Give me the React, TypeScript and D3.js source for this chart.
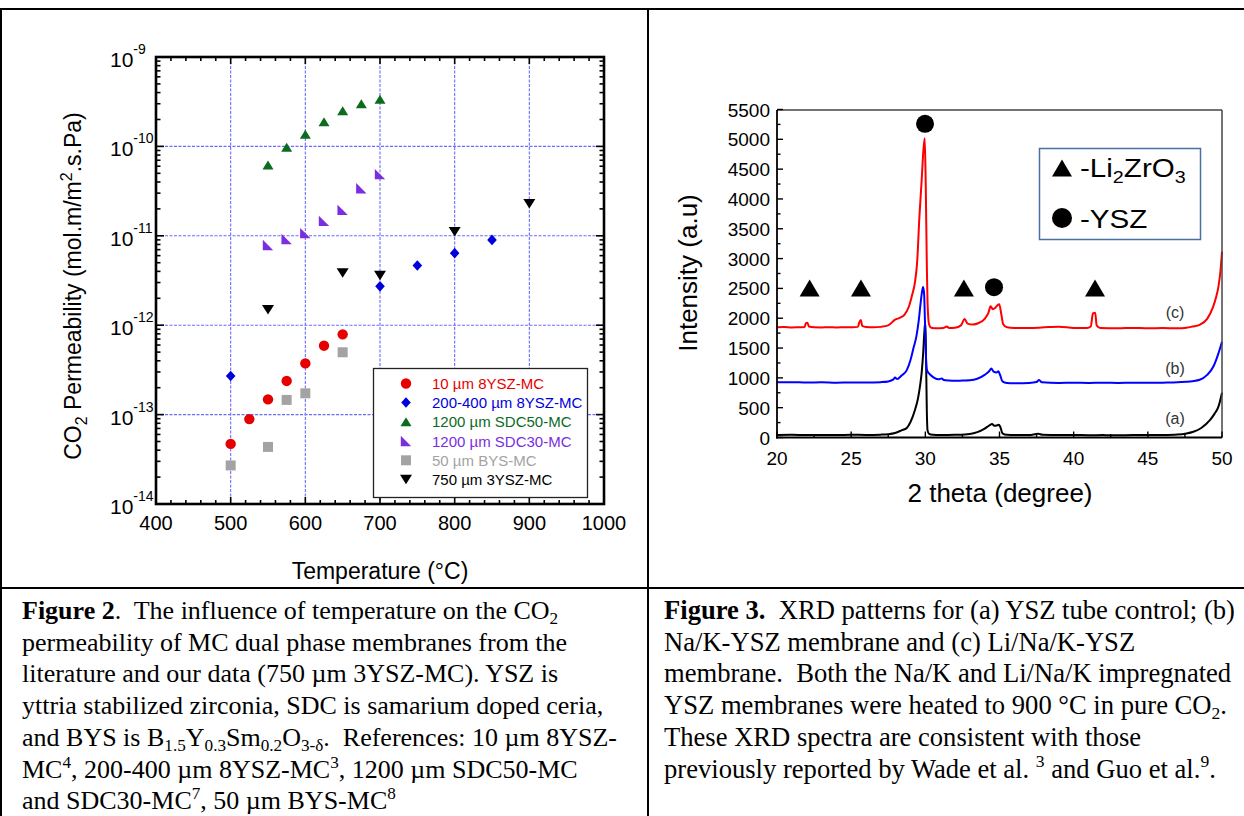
import React from 'react';
import * as d3 from 'd3';

// ---------- Figure 2 data (CO2 permeability vs temperature) ----------
const tempTicks = [400, 500, 600, 700, 800, 900, 1000];
const decadeExps = [-14, -13, -12, -11, -10, -9];

const ysz10T = [500, 525, 550, 575, 600, 625, 650];
const ysz10P = [4.7e-14, 8.9e-14, 1.48e-13, 2.38e-13, 3.74e-13, 5.9e-13, 7.9e-13];
const ysz200T = [500, 700, 750, 800, 850];
const ysz200P = [2.7e-13, 2.72e-12, 4.66e-12, 6.4e-12, 9.0e-12];
const sdc50T = [550, 575, 600, 625, 650, 675, 700];
const sdc50P = [6.2e-11, 9.8e-11, 1.37e-10, 1.89e-10, 2.5e-10, 3.0e-10, 3.37e-10];
const sdc30T = [550, 575, 600, 625, 650, 675, 700];
const sdc30P = [7.9e-12, 9.2e-12, 1.07e-11, 1.47e-11, 1.95e-11, 3.4e-11, 4.9e-11];
const bysT = [500, 550, 575, 600, 650];
const bysP = [2.7e-14, 4.35e-14, 1.46e-13, 1.73e-13, 4.98e-13];
const ysz3T = [550, 650, 700, 800, 900];
const ysz3P = [1.49e-12, 3.83e-12, 3.6e-12, 1.11e-11, 2.28e-11];

const seriesNames = ['10 µm 8YSZ-MC', '200-400 µm 8YSZ-MC', '1200 µm SDC50-MC', '1200 µm SDC30-MC', '50 µm BYS-MC', '750 µm 3YSZ-MC'];
const seriesColors = ['#e60000', '#0000dd', '#0b6b1e', '#7a2ee0', '#a3a3a3', '#000000'];
const seriesShapes = ['circle', 'diamond', 'triangle', 'rtri', 'square', 'tridown'];
const seriesT = [ysz10T, ysz200T, sdc50T, sdc30T, bysT, ysz3T];
const seriesP = [ysz10P, ysz200P, sdc50P, sdc30P, bysP, ysz3P];

// ---------- Figure 3 data (XRD) ----------
const thetaTicks = [20, 25, 30, 35, 40, 45, 50];
const intensityTicks = [0, 500, 1000, 1500, 2000, 2500, 3000, 3500, 4000, 4500, 5000, 5500];

const xrdA: [number, number][] = [
  [20, 42], [21, 45], [22, 40], [23, 44], [24, 42], [25, 45], [26, 44], [27, 48], [27.5, 55], [27.96, 75],
  [28.4, 120], [28.75, 160], [29.0, 260], [29.3, 461], [29.5, 650], [29.65, 880], [29.75, 1080], [29.85, 1400],
  [29.93, 1750], [30.0, 1950], [30.05, 1300], [30.1, 450], [30.15, 120], [30.25, 60], [30.5, 45], [31, 40],
  [32, 45], [33, 60], [33.5, 90], [34, 150], [34.3, 200], [34.5, 226], [34.65, 195], [34.8, 200], [34.95, 212],
  [35.05, 180], [35.2, 70], [35.5, 45], [36, 40], [37, 42], [37.6, 62], [37.9, 45], [39, 40], [40, 42], [41, 38],
  [42, 40], [43, 38], [44, 40], [45, 40], [46, 42], [47, 50], [47.6, 68], [48.07, 97], [48.6, 160], [49.2, 294],
  [49.5, 400], [49.76, 517], [50, 752],
];
const xrdB: [number, number][] = [
  [20, 925], [21, 928], [22, 922], [23, 926], [24, 920], [25, 924], [26, 921], [27, 928], [27.5, 940], [27.85, 975],
  [27.96, 1005], [28.1, 980], [28.4, 1040], [28.75, 1130], [29.0, 1300], [29.2, 1500], [29.4, 1700], [29.55, 1950],
  [29.68, 2250], [29.78, 2450], [29.85, 2525], [29.92, 2400], [29.98, 1900], [30.05, 1300], [30.12, 1120],
  [30.3, 1060], [30.6, 1000], [30.9, 975], [31.1, 990], [31.25, 965], [31.6, 955], [32, 950], [32.5, 955],
  [33, 960], [33.5, 985], [34, 1050], [34.3, 1110], [34.45, 1155], [34.6, 1105], [34.8, 1090], [34.92, 1110],
  [35.05, 1040], [35.2, 940], [35.5, 915], [36, 910], [37, 915], [37.5, 930], [37.67, 965], [37.85, 925],
  [39, 915], [40, 918], [41, 915], [42, 918], [43, 915], [44, 920], [45, 916], [46, 920], [47, 925], [47.6, 935],
  [48, 945], [48.5, 968], [49, 1050], [49.42, 1190], [49.76, 1410], [50, 1607],
];
const xrdC: [number, number][] = [
  [20, 1848], [20.5, 1852], [21, 1846], [21.5, 1850], [21.85, 1852], [21.95, 1915], [22.05, 1926], [22.15, 1860],
  [22.5, 1848], [23, 1846], [23.5, 1850], [24, 1845], [24.5, 1848], [25, 1850], [25.45, 1855], [25.55, 1930],
  [25.65, 1970], [25.75, 1870], [26, 1852], [26.5, 1848], [27, 1855], [27.5, 1880], [27.96, 1975], [28.3, 2010],
  [28.6, 2060], [28.9, 2200], [29.1, 2380], [29.3, 2600], [29.45, 2950], [29.6, 3700], [29.75, 4300],
  [29.87, 4820], [29.96, 5020], [30.03, 4200], [30.1, 2900], [30.15, 2250], [30.25, 1900], [30.4, 1840],
  [30.8, 1830], [31.2, 1835], [31.45, 1860], [31.6, 1835], [32, 1840], [32.4, 1880], [32.65, 1985], [32.85, 1910],
  [33.2, 1895], [33.6, 1920], [34, 1990], [34.25, 2090], [34.4, 2200], [34.55, 2150], [34.7, 2170], [34.85, 2215],
  [34.98, 2235], [35.1, 2100], [35.25, 1900], [35.5, 1850], [36, 1838], [37, 1835], [38, 1848], [39, 1858],
  [40, 1838], [40.9, 1835], [41.15, 1860], [41.3, 2080], [41.45, 2090], [41.55, 1880], [41.8, 1836], [43, 1832],
  [44, 1838], [45, 1832], [46, 1835], [47, 1830], [47.6, 1840], [48, 1860], [48.5, 1890], [49, 1990],
  [49.4, 2190], [49.6, 2350], [49.76, 2530], [49.9, 2800], [50, 3117],
];
const xrdCurves = [xrdA, xrdB, xrdC];
const xrdColors = ['#000000', '#0000ff', '#ff0000'];
const xrdLabels = ['(a)', '(b)', '(c)'];
const xrdLabelLevels = [330, 1170, 2100];

const li2zro3Peaks = [22.2, 25.66, 32.6, 41.44];
const li2zro3Level = 2508;
const yszPeaks: [number, number][] = [[29.98, 5260], [34.63, 2520]];

// ---------- captions ----------
type Seg = [string, string];
const caption2: Seg[][] = [
  [['Figure 2', 'b'], ['.  The influence of temperature on the CO', ''], ['2', 'sub']],
  [['permeability of MC dual phase membranes from the', '']],
  [['literature and our data (750 µm 3YSZ-MC). YSZ is', '']],
  [['yttria stabilized zirconia, SDC is samarium doped ceria,', '']],
  [['and BYS is B', ''], ['1.5', 'sub'], ['Y', ''], ['0.3', 'sub'], ['Sm', ''], ['0.2', 'sub'], ['O', ''], ['3-δ', 'sub'], ['.  References: 10 µm 8YSZ-', '']],
  [['MC', ''], ['4', 'sup'], [', 200-400 µm 8YSZ-MC', ''], ['3', 'sup'], [', 1200 µm SDC50-MC', '']],
  [['and SDC30-MC', ''], ['7', 'sup'], [', 50 µm BYS-MC', ''], ['8', 'sup']],
];
const caption3: Seg[][] = [
  [['Figure 3.', 'b'], ['  XRD patterns for (a) YSZ tube control; (b)', '']],
  [['Na/K-YSZ membrane and (c) Li/Na/K-YSZ', '']],
  [['membrane.  Both the Na/K and Li/Na/K impregnated', '']],
  [['YSZ membranes were heated to 900 °C in pure CO', ''], ['2', 'sub'], ['.', '']],
  [['These XRD spectra are consistent with those', '']],
  [['previously reported by Wade et al. ', ''], ['3', 'sup'], [' and Guo et al.', ''], ['9', 'sup'], ['.', '']],
];

const SANS = "'Liberation Sans', Arial, Helvetica, sans-serif";
const SERIF = "'Liberation Serif', 'Times New Roman', serif";

// scales
const xT = d3.scaleLinear().domain([400, 1000]).range([156, 604]);
const yP = d3.scaleLog().domain([1e-14, 1e-9]).range([504, 57]);
const x2 = d3.scaleLinear().domain([20, 50]).range([777, 1222]);
const y2 = d3.scaleLinear().domain([0, 5500]).range([437.5, 109.5]);

function markerPath(kind: string, cx: number, cy: number): string {
  switch (kind) {
    case 'circle': {
      const r = 5.2;
      return `M${cx - r},${cy}a${r},${r} 0 1,0 ${2 * r},0a${r},${r} 0 1,0 ${-2 * r},0Z`;
    }
    case 'square': {
      const s = 5;
      return `M${cx - s},${cy - s}h${2 * s}v${2 * s}h${-2 * s}Z`;
    }
    case 'diamond': {
      const a = 4.8, b = 5.3;
      return `M${cx},${cy - b}L${cx + a},${cy}L${cx},${cy + b}L${cx - a},${cy}Z`;
    }
    case 'triangle': {
      const w = 5.5, h = 4.5;
      return `M${cx},${cy - h}L${cx + w},${cy + h}L${cx - w},${cy + h}Z`;
    }
    case 'tridown': {
      const w = 6, h = 4.8;
      return `M${cx - w},${cy - h}L${cx + w},${cy - h}L${cx},${cy + h}Z`;
    }
    case 'rtri': {
      const s = 5.2;
      return `M${cx - s},${cy - s}L${cx + s},${cy + s}L${cx - s},${cy + s}Z`;
    }
  }
  return '';
}

function RichLine({ x, y, segs, size }: { x: number; y: number; segs: Seg[]; size: number }) {
  let shift = 0;
  const spans = segs.map(([t, k], i) => {
    const target = k === 'sub' ? size * 0.2 : k === 'sup' ? -size * 0.38 : 0;
    const dy = target - shift;
    shift = target;
    const small = k === 'sub' || k === 'sup';
    return (
      <tspan key={i} dy={dy} fontWeight={k === 'b' ? 'bold' : 'normal'} fontSize={small ? size * 0.66 : size}>
        {t}
      </tspan>
    );
  });
  return (
    <text x={x} y={y} fontFamily={SERIF} fontSize={size} fill="#000" style={{ whiteSpace: 'pre' }}>
      {spans}
    </text>
  );
}

export default function App() {
  const xMinor = d3.range(400, 1001, 20).filter((v) => v % 100 !== 0);
  const yMinor: number[] = [];
  for (let e = -14; e < -9; e++) for (let k = 2; k <= 9; k++) yMinor.push(k * Math.pow(10, e));
  const gridX = [500, 600, 700, 800, 900];
  const gridY = [1e-13, 1e-12, 1e-11, 1e-10];

  const line = d3
    .line<[number, number]>()
    .x((d) => x2(d[0]))
    .y((d) => y2(d[1]))
    .curve(d3.curveMonotoneX);

  const yMinor2 = d3.range(250, 5500, 500);
  const xMinor2 = d3.range(22.5, 50, 5);

  const legendRows = [383.5, 402.5, 421.8, 441, 460.3, 479.5];

  const lineH = 31.7;

  return (
    <svg
      width={1244}
      height={816}
      viewBox="0 0 1244 816"
      style={{ position: 'absolute', left: 0, top: 0, background: '#fff' }}
    >
      <rect x={0} y={0} width={1244} height={816} fill="#fff" />
      {/* table borders */}
      <g stroke="#000" strokeWidth={2}>
        <line x1={0} y1={9} x2={1244} y2={9} />
        <line x1={0} y1={588} x2={1244} y2={588} />
        <line x1={1} y1={9} x2={1} y2={816} />
        <line x1={648} y1={9} x2={648} y2={816} />
      </g>

      {/* ===== Left chart ===== */}
      <g>
        {gridX.map((v) => (
          <line key={'gx' + v} x1={xT(v)} x2={xT(v)} y1={57} y2={504} stroke="#6b6bff" strokeWidth={1.1} strokeDasharray="3,1.5" />
        ))}
        {gridY.map((v) => (
          <line key={'gy' + v} x1={156} x2={604} y1={yP(v)} y2={yP(v)} stroke="#6b6bff" strokeWidth={1.1} strokeDasharray="3,1.5" />
        ))}
        <g stroke="#000" strokeWidth={1.6}>
          {tempTicks.map((v) => (
            <g key={'tt' + v}>
              <line x1={xT(v)} x2={xT(v)} y1={504} y2={497} />
              <line x1={xT(v)} x2={xT(v)} y1={57} y2={64} />
            </g>
          ))}
          {xMinor.map((v) => (
            <g key={'tm' + v}>
              <line x1={xT(v)} x2={xT(v)} y1={504} y2={500} />
              <line x1={xT(v)} x2={xT(v)} y1={57} y2={61} />
            </g>
          ))}
          {decadeExps.map((e) => (
            <g key={'yt' + e}>
              <line x1={156} x2={164} y1={yP(Math.pow(10, e))} y2={yP(Math.pow(10, e))} />
              <line x1={604} x2={596} y1={yP(Math.pow(10, e))} y2={yP(Math.pow(10, e))} />
            </g>
          ))}
          {yMinor.map((v, i) => (
            <g key={'ym' + i}>
              <line x1={156} x2={160.5} y1={yP(v)} y2={yP(v)} />
              <line x1={604} x2={599.5} y1={yP(v)} y2={yP(v)} />
            </g>
          ))}
        </g>
        <rect x={156} y={57} width={448} height={447} fill="none" stroke="#000" strokeWidth={2.6} />

        {seriesT.map((ts, si) =>
          ts.map((t, i) => (
            <path key={'m' + si + '-' + i} d={markerPath(seriesShapes[si], xT(t), yP(seriesP[si][i]))} fill={seriesColors[si]} />
          ))
        )}

        {tempTicks.map((v) => (
          <text key={'tl' + v} x={xT(v)} y={530} textAnchor="middle" fontFamily={SANS} fontSize={20} fill="#000">
            {v}
          </text>
        ))}
        {decadeExps.map((e) => (
          <text key={'yl' + e} x={110} y={yP(Math.pow(10, e)) + 10} fontFamily={SANS} fontSize={21} fill="#000">
            10
            <tspan dy={-13} fontSize={14}>
              {String(e)}
            </tspan>
          </text>
        ))}

        <text x={380} y={579} textAnchor="middle" fontFamily={SANS} fontSize={23} fill="#000">
          Temperature (°C)
        </text>
        <text transform="translate(81,286) rotate(-90)" textAnchor="middle" fontFamily={SANS} fontSize={23} fill="#000">
          CO
          <tspan dy={6} fontSize={16}>2</tspan>
          <tspan dy={-6}> Permeability (mol.m/m</tspan>
          <tspan dy={-9} fontSize={16}>2</tspan>
          <tspan dy={9}>.s.Pa)</tspan>
        </text>

        <rect x={373.5} y={368.5} width={214} height={129} fill="#fff" stroke="#222" strokeWidth={1.3} />
        {seriesNames.map((n, i) => (
          <g key={'lg' + i}>
            <path d={markerPath(seriesShapes[i], 406, legendRows[i])} fill={seriesColors[i]} />
            <text x={432} y={legendRows[i] + 5.5} fontFamily={SANS} fontSize={15} fill={seriesColors[i]}>
              {n}
            </text>
          </g>
        ))}
      </g>

      {/* ===== Right chart ===== */}
      <g>
        {xrdCurves.map((c, i) => (
          <path key={'xc' + i} d={line(c) || ''} fill="none" stroke={xrdColors[i]} strokeWidth={2} strokeLinejoin="round" />
        ))}
        <line x1={777} x2={1222} y1={110} y2={110} stroke="#444" strokeWidth={1.5} />
        <line x1={1222} x2={1222} y1={110} y2={437.5} stroke="#444" strokeWidth={1.5} />
        <line x1={777} x2={777} y1={110} y2={438.5} stroke="#000" strokeWidth={1.8} />
        <line x1={776} x2={1222} y1={437.5} y2={437.5} stroke="#000" strokeWidth={1.8} />
        <g stroke="#000" strokeWidth={1.4}>
          {intensityTicks.map((v) => (
            <line key={'it' + v} x1={777} x2={783} y1={y2(v)} y2={y2(v)} />
          ))}
          {yMinor2.map((v) => (
            <line key={'im' + v} x1={777} x2={780.5} y1={y2(v)} y2={y2(v)} />
          ))}
          {thetaTicks.map((v) => (
            <line key={'th' + v} x1={x2(v)} x2={x2(v)} y1={437.5} y2={431.5} />
          ))}
          {xMinor2.map((v) => (
            <line key={'thm' + v} x1={x2(v)} x2={x2(v)} y1={437.5} y2={434} />
          ))}
        </g>
        {intensityTicks.map((v) => (
          <text key={'il' + v} x={770} y={y2(v) + 7} textAnchor="end" fontFamily={SANS} fontSize={19} fill="#000">
            {v}
          </text>
        ))}
        {thetaTicks.map((v) => (
          <text key={'tl2' + v} x={x2(v)} y={465} textAnchor="middle" fontFamily={SANS} fontSize={19} fill="#000">
            {v}
          </text>
        ))}
        <text x={1000} y={502} textAnchor="middle" fontFamily={SANS} fontSize={26} fill="#000">
          2 theta (degree)
        </text>
        <text transform="translate(697,273) rotate(-90)" textAnchor="middle" fontFamily={SANS} fontSize={26} fill="#000">
          Intensity (a.u)
        </text>

        {li2zro3Peaks.map((p) => {
          const cx = x2(p), cy = y2(li2zro3Level);
          return <path key={'lp' + p} d={`M${cx},${cy - 8.5}L${cx + 10},${cy + 8.5}L${cx - 10},${cy + 8.5}Z`} fill="#000" />;
        })}
        {yszPeaks.map((p) => (
          <circle key={'yp' + p[0]} cx={x2(p[0])} cy={y2(p[1])} r={9} fill="#000" />
        ))}

        {xrdLabels.map((t, i) => (
          <text key={'xl' + i} x={1175} y={y2(xrdLabelLevels[i]) + 6} textAnchor="middle" fontFamily={SANS} fontSize={16} fill="#333">
            {t}
          </text>
        ))}

        <rect x={1039.5} y={148.5} width={161} height={91} fill="#fff" stroke="#4a6fa5" strokeWidth={1.5} />
        <path d={`M1062,159.5L1072,176.5L1052,176.5Z`} fill="#000" />
        <g transform="translate(1080,0) scale(1.16,1)">
          <text x={0} y={177} fontFamily={SANS} fontSize={25.5} fill="#000">
            -Li
            <tspan dy={6} fontSize={17}>2</tspan>
            <tspan dy={-6}>ZrO</tspan>
            <tspan dy={6} fontSize={17}>3</tspan>
          </text>
          <text x={0} y={228} fontFamily={SANS} fontSize={25.5} fill="#000">
            -YSZ
          </text>
        </g>
        <circle cx={1062} cy={218} r={10} fill="#000" />
      </g>

      {/* ===== Captions ===== */}
      {caption2.map((segs, i) => (
        <RichLine key={'c2' + i} x={22} y={619 + i * lineH} segs={segs} size={26} />
      ))}
      {caption3.map((segs, i) => (
        <RichLine key={'c3' + i} x={664} y={619 + i * lineH} segs={segs} size={26.6} />
      ))}
    </svg>
  );
}
